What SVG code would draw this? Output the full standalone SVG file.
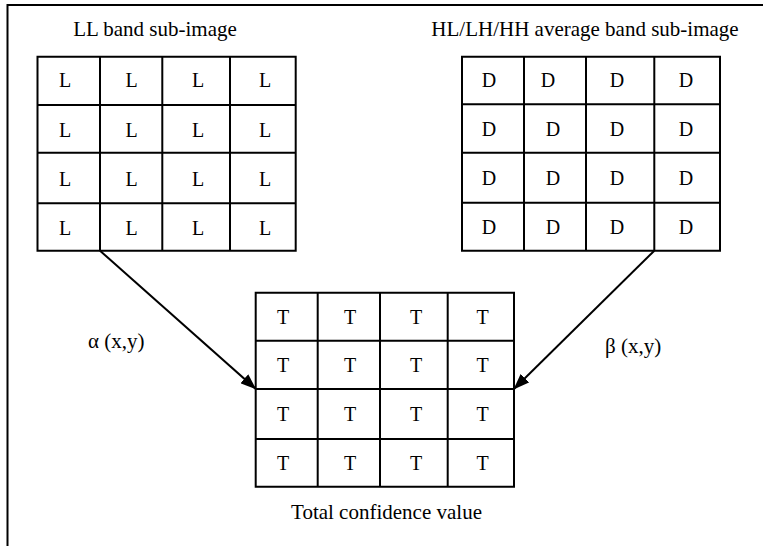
<svg xmlns="http://www.w3.org/2000/svg" width="763" height="546" viewBox="0 0 763 546" font-family="Liberation Serif, Tinos, Times New Roman, DejaVu Serif, Noto Serif, serif">
<defs>
<style>
.g{fill:none;stroke:#000;stroke-width:2}
.t{font-size:21px}
.c{font-size:20px;text-anchor:middle}
.m{text-anchor:middle}
.e{fill:none;stroke:#000;stroke-width:2}
</style>
<marker id="ah" markerWidth="16" markerHeight="12" refX="15" refY="6" orient="auto" markerUnits="userSpaceOnUse">
<path d="M0,0 L16,6 L0,12 Z" fill="#000"/>
</marker>
</defs>
<rect width="763" height="546" fill="#fff"/>
<path d="M7.5,546 V5 H763" fill="none" stroke="#000" stroke-width="2"/>

<g id="ll-band">
<text class="t m" x="155" y="36">LL band sub-image</text>
<path class="g" d="M37.5,56.7 H295.7 V250.7 H37.5 Z M100,56.7 V250.7 M162.3,56.7 V250.7 M230,56.7 V250.7 M37.5,105 H295.7 M37.5,152.7 H295.7 M37.5,203.3 H295.7"/>
<g class="c">
<text x="65" y="87">L</text><text x="131.5" y="87">L</text><text x="198" y="87">L</text><text x="265" y="87">L</text>
<text x="65" y="136.5">L</text><text x="131.5" y="136.5">L</text><text x="198" y="136.5">L</text><text x="265" y="136.5">L</text>
<text x="65" y="186">L</text><text x="131.5" y="186">L</text><text x="198" y="186">L</text><text x="265" y="186">L</text>
<text x="65" y="235">L</text><text x="131.5" y="235">L</text><text x="198" y="235">L</text><text x="265" y="235">L</text>
</g>
</g>

<g id="hl-band">
<text class="t m" x="585" y="36">HL/LH/HH average band sub-image</text>
<path class="g" d="M462,56.7 H720 V250.7 H462 Z M524,56.7 V250.7 M586,56.7 V250.7 M654.3,56.7 V250.7 M462,104.3 H720 M462,152.7 H720 M462,202.7 H720"/>
<g class="c">
<text x="489" y="86.5">D</text><text x="548" y="86.5">D</text><text x="617" y="86.5">D</text><text x="686" y="86.5">D</text>
<text x="489" y="136">D</text><text x="553" y="136">D</text><text x="617" y="136">D</text><text x="686" y="136">D</text>
<text x="489" y="185">D</text><text x="553" y="185">D</text><text x="617" y="185">D</text><text x="686" y="185">D</text>
<text x="489" y="233.5">D</text><text x="553" y="233.5">D</text><text x="617" y="233.5">D</text><text x="686" y="233.5">D</text>
</g>
</g>

<g id="total">
<path class="g" d="M255.7,292.7 H514 V486.7 H255.7 Z M317.7,292.7 V486.7 M380,292.7 V486.7 M447.7,292.7 V486.7 M255.7,340.7 H514 M255.7,389 H514 M255.7,439 H514"/>
<g class="c">
<text x="283" y="323.5">T</text><text x="350" y="323.5">T</text><text x="416" y="323.5">T</text><text x="482.7" y="323.5">T</text>
<text x="283" y="372">T</text><text x="350" y="372">T</text><text x="416" y="372">T</text><text x="482.7" y="372">T</text>
<text x="283" y="421">T</text><text x="350" y="421">T</text><text x="416" y="421">T</text><text x="482.7" y="421">T</text>
<text x="283" y="470">T</text><text x="350" y="470">T</text><text x="416" y="470">T</text><text x="482.7" y="470">T</text>
</g>
<text class="t m" x="386.5" y="519">Total confidence value</text>
</g>

<g id="connectors">
<line class="e" x1="100" y1="250.7" x2="255.5" y2="388.7" marker-end="url(#ah)"/>
<line class="e" x1="654.3" y1="250.7" x2="514.2" y2="388.7" marker-end="url(#ah)"/>
<text class="t" x="88" y="348">α (x,y)</text>
<text class="t" x="605" y="353">β (x,y)</text>
</g>
</svg>
